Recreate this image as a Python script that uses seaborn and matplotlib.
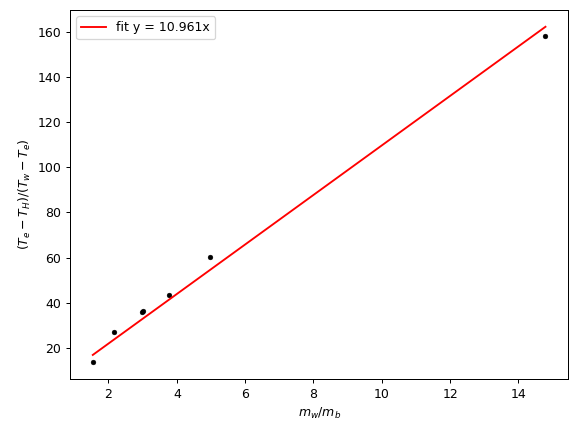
import numpy as np
import pandas as pd
import seaborn as sns
import matplotlib
matplotlib.use("Agg")
import matplotlib.pyplot as plt

# measured ratios and temperature ratios
mass_ratio = [1.54, 2.15, 2.97, 3.00, 3.77, 4.97, 14.79]
temp_ratio = [13.7, 26.9, 35.8, 36.2, 43.2, 60.4, 157.9]
slope = 10.961

df = pd.DataFrame({"x": mass_ratio, "y": temp_ratio})

fig, ax = plt.subplots(figsize=(575 / 90, 435 / 90), dpi=90)
fig.subplots_adjust(left=0.122, right=0.988, top=0.977, bottom=0.129)
sns.scatterplot(data=df, x="x", y="y", ax=ax, color="black", s=15, edgecolor=None)

xfit = np.array([min(mass_ratio), max(mass_ratio)])
sns.lineplot(x=xfit, y=slope * xfit, ax=ax, color="red", label=f"fit y = {slope}x")

ax.set_xlabel(r"$m_w/m_b$")
ax.set_ylabel(r"$(T_e-T_H)/(T_w-T_e)$")
ax.legend(loc="upper left")

plt.savefig("out.png", dpi=90)
